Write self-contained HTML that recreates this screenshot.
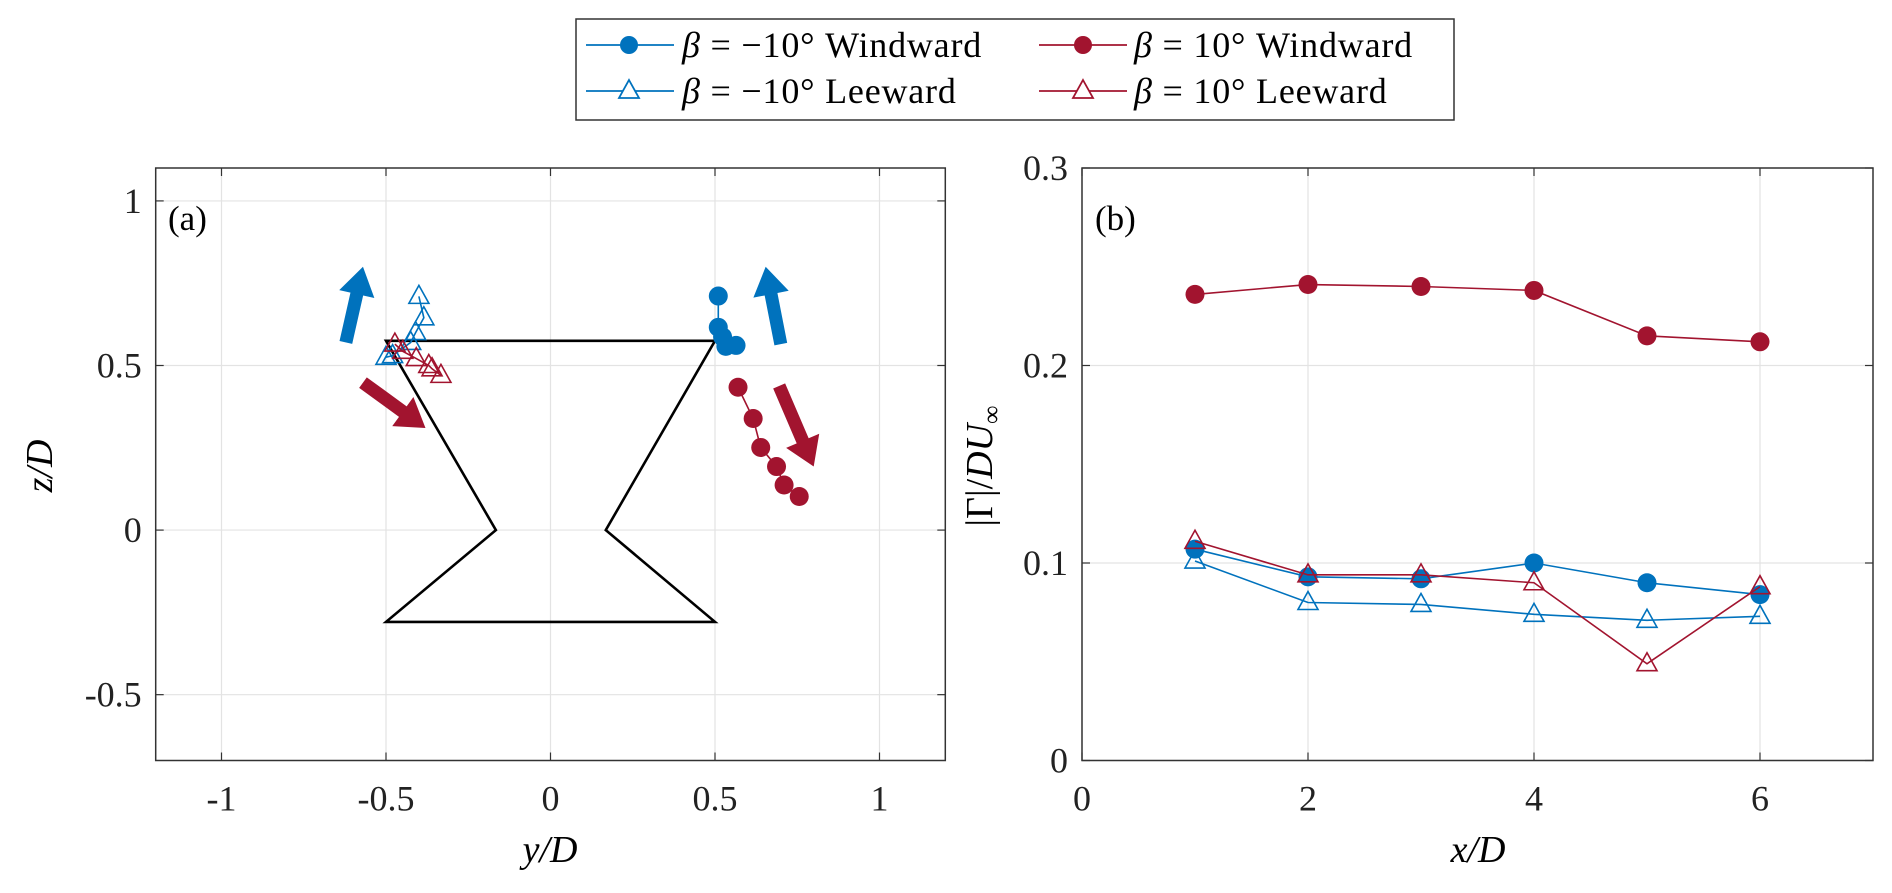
<!DOCTYPE html>
<html><head><meta charset="utf-8">
<style>
html,body{margin:0;padding:0;background:#fff;}
svg{display:block;font-family:"Liberation Serif",serif;}
</style></head>
<body>
<svg id="fig" width="1892" height="893" viewBox="0 0 1892 893" xmlns="http://www.w3.org/2000/svg">
  <g id="pa"></g>
  <g id="pb"></g>
  <g>
    <rect x="576" y="19" width="878" height="101" fill="#fff" stroke="#333" stroke-width="1.5"/>
    <g>
      <line x1="586" y1="45" x2="674" y2="45" stroke="#0072BD" stroke-width="1.8"/>
      <circle cx="629" cy="45" r="9" fill="#0072BD"/>
      <text x="682" y="57" font-size="36" letter-spacing="0.8"><tspan font-style="italic">β</tspan> = −10° Windward</text>
    </g>
    <g>
      <line x1="1039" y1="45" x2="1127" y2="45" stroke="#A2142F" stroke-width="1.8"/>
      <circle cx="1083" cy="45" r="9" fill="#A2142F"/>
      <text x="1134" y="57" font-size="36" letter-spacing="0.8"><tspan font-style="italic">β</tspan> = 10° Windward</text>
    </g>
    <g>
      <line x1="586" y1="91" x2="674" y2="91" stroke="#0072BD" stroke-width="1.8"/>
      <polygon points="629,80 639,98 619,98" fill="#fff" stroke="#0072BD" stroke-width="1.8"/>
      <text x="682" y="103" font-size="36" letter-spacing="0.8"><tspan font-style="italic">β</tspan> = −10° Leeward</text>
    </g>
    <g>
      <line x1="1039" y1="91" x2="1127" y2="91" stroke="#A2142F" stroke-width="1.8"/>
      <polygon points="1083,80 1093,98 1073,98" fill="#fff" stroke="#A2142F" stroke-width="1.8"/>
      <text x="1134" y="103" font-size="36" letter-spacing="0.8"><tspan font-style="italic">β</tspan> = 10° Leeward</text>
    </g>
  </g>
</svg>
<script>
// ---- Panel (a) data ----
const aBlueWindY = [0.51, 0.51, 0.523, 0.533, 0.564];
const aBlueWindZ = [0.711, 0.616, 0.587, 0.558, 0.561];
const aRedWindY = [0.57, 0.616, 0.639, 0.687, 0.71, 0.756];
const aRedWindZ = [0.434, 0.339, 0.251, 0.193, 0.137, 0.102];
const aBlueLeeY = [-0.40, -0.385, -0.41, -0.425, -0.48, -0.50];
const aBlueLeeZ = [0.71, 0.645, 0.60, 0.57, 0.53, 0.525];
const aRedLeeY = [-0.473, -0.449, -0.408, -0.37, -0.36, -0.333];
const aRedLeeZ = [0.565, 0.543, 0.521, 0.50, 0.49, 0.47];
const bodyY = [-0.5, 0.5, 0.168, 0.5, -0.5, -0.166];
const bodyZ = [0.575, 0.575, 0, -0.279, -0.279, 0];
const aXTicks = [-1, -0.5, 0, 0.5, 1];
const aXTickLabels = ["-1", "-0.5", "0", "0.5", "1"];
const aYTicks = [-0.5, 0, 0.5, 1];
const aYTickLabels = ["-0.5", "0", "0.5", "1"];
// ---- Panel (b) data ----
const bX = [1, 2, 3, 4, 5, 6];
const bRedWind = [0.236, 0.241, 0.240, 0.238, 0.215, 0.212];
const bBlueWind = [0.107, 0.093, 0.092, 0.100, 0.090, 0.084];
const bBlueLee = [0.101, 0.080, 0.079, 0.074, 0.071, 0.073];
const bRedLee = [0.111, 0.094, 0.094, 0.090, 0.049, 0.088];
const bXTicks = [0, 2, 4, 6];
const bXTickLabels = ["0", "2", "4", "6"];
const bYTicks = [0, 0.1, 0.2, 0.3];
const bYTickLabels = ["0", "0.1", "0.2", "0.3"];

const NS = "http://www.w3.org/2000/svg";
const BLUE = "#0072BD", RED = "#A2142F";
function mk(parent, tag, attrs, text) {
  const e = document.createElementNS(NS, tag);
  for (const k in attrs) e.setAttribute(k, attrs[k]);
  if (text !== undefined) e.textContent = text;
  parent.appendChild(e);
  return e;
}
function axes(g, L, T, R, B, sx, sy, xt, xl, yt, yl) {
  for (let i = 0; i < xt.length; i++) {
    const x = sx(xt[i]);
    mk(g, "line", {x1: x, y1: T, x2: x, y2: B, stroke: "#e3e3e3", "stroke-width": 1.2});
  }
  for (let i = 0; i < yt.length; i++) {
    const y = sy(yt[i]);
    mk(g, "line", {x1: L, y1: y, x2: R, y2: y, stroke: "#e3e3e3", "stroke-width": 1.2});
  }
  for (let i = 0; i < xt.length; i++) {
    const x = sx(xt[i]);
    mk(g, "line", {x1: x, y1: B, x2: x, y2: B - 8, stroke: "#333", "stroke-width": 1.2});
    mk(g, "line", {x1: x, y1: T, x2: x, y2: T + 8, stroke: "#333", "stroke-width": 1.2});
    const t = mk(g, "text", {x: x, y: B + 50, "font-size": 36, "text-anchor": "middle", fill: "#222"}, xl[i]);
    
    
  }
  for (let i = 0; i < yt.length; i++) {
    const y = sy(yt[i]);
    mk(g, "line", {x1: L, y1: y, x2: L + 8, y2: y, stroke: "#333", "stroke-width": 1.2});
    mk(g, "line", {x1: R, y1: y, x2: R - 8, y2: y, stroke: "#333", "stroke-width": 1.2});
    const t = mk(g, "text", {x: L - 14, y: y + 12, "font-size": 36, "text-anchor": "end", fill: "#222"}, yl[i]);
    
    
  }
  const box = mk(g, "rect", {x: L, y: T, width: R - L, height: B - T, fill: "none", stroke: "#333", "stroke-width": 1.5});
  
  
}
function series(g, xs, ys, sx, sy, color, marker, name) {
  const s = mk(g, "g", {});
  
  
  const pts = xs.map((x, i) => sx(x) + "," + sy(ys[i])).join(" ");
  mk(s, "polyline", {points: pts, fill: "none", stroke: color, "stroke-width": 1.6});
  for (let i = 0; i < xs.length; i++) {
    const cx = sx(xs[i]), cy = sy(ys[i]);
    let m;
    if (marker === "circle") m = mk(s, "circle", {cx: cx, cy: cy, r: 9.5, fill: color});
    else m = mk(s, "polygon", {points: `${cx},${cy-11} ${cx+10},${cy+7} ${cx-10},${cy+7}`, fill: "none", stroke: color, "stroke-width": 1.6});
    
    
  }
}
function arrow(g, sx, sy, x0, y0, x1, y1, color, name) {
  const ax = sx(x0), ay = sy(y0), bx = sx(x1), by = sy(y1);
  const dx = bx - ax, dy = by - ay, len = Math.hypot(dx, dy);
  const ux = dx / len, uy = dy / len, px = -uy, py = ux;
  const hl = 28, hw = 18, sw = 6.5;
  const hx = bx - ux * hl, hy = by - uy * hl;
  const p = [[ax + px*sw, ay + py*sw], [hx + px*sw, hy + py*sw], [hx + px*hw, hy + py*hw], [bx, by],
             [hx - px*hw, hy - py*hw], [hx - px*sw, hy - py*sw], [ax - px*sw, ay - py*sw]];
  const a = mk(g, "polygon", {points: p.map(q => q.join(",")).join(" "), fill: color});
  
  
}

// Panel a
(function(){
  const g = document.getElementById("pa");
  const L = 155.7, R = 945.3, T = 168, B = 760.5;
  const sx = v => L + (v + 1.2) / 2.4 * (R - L);
  const sy = v => B - (v + 0.7) / 1.8 * (B - T);
  axes(g, L, T, R, B, sx, sy, aXTicks, aXTickLabels, aYTicks, aYTickLabels);
  const body = mk(g, "polygon", {points: bodyY.map((y, i) => sx(y) + "," + sy(bodyZ[i])).join(" "), fill: "none", stroke: "#000", "stroke-width": 2.6});
  
  
  series(g, aBlueLeeY, aBlueLeeZ, sx, sy, BLUE, "tri", "neg10-leeward");
  series(g, aRedLeeY, aRedLeeZ, sx, sy, RED, "tri", "pos10-leeward");
  series(g, aBlueWindY, aBlueWindZ, sx, sy, BLUE, "circle", "neg10-windward");
  series(g, aRedWindY, aRedWindZ, sx, sy, RED, "circle", "pos10-windward");
  arrow(g, sx, sy, -0.622, 0.57, -0.57, 0.80, BLUE, "arrow-left-blue");
  arrow(g, sx, sy, -0.57, 0.448, -0.38, 0.31, RED, "arrow-left-red");
  arrow(g, sx, sy, 0.70, 0.565, 0.654, 0.80, BLUE, "arrow-right-blue");
  arrow(g, sx, sy, 0.695, 0.438, 0.80, 0.193, RED, "arrow-right-red");
  const pl = mk(g, "text", {x: 168, y: 230, "font-size": 35}, "(a)");
  
  
  const xl = mk(g, "text", {x: 550, y: 862, "font-size": 38, "text-anchor": "middle", "font-style": "italic"}, "y/D");
  
  
  const yl = mk(g, "text", {x: 0, y: 0, "font-size": 38, "text-anchor": "middle", "font-style": "italic", transform: "translate(52,466) rotate(-90)"}, "z/D");
  
  
})();

// Panel b
(function(){
  const g = document.getElementById("pb");
  const L = 1082, R = 1873, T = 168, B = 760.5;
  const sx = v => L + v / 7 * (R - L);
  const sy = v => B - v / 0.3 * (B - T);
  axes(g, L, T, R, B, sx, sy, bXTicks, bXTickLabels, bYTicks, bYTickLabels);
  series(g, bX, bRedWind, sx, sy, RED, "circle", "pos10-windward-b");
  series(g, bX, bBlueLee, sx, sy, BLUE, "tri", "neg10-leeward-b");
  series(g, bX, bBlueWind, sx, sy, BLUE, "circle", "neg10-windward-b");
  series(g, bX, bRedLee, sx, sy, RED, "tri", "pos10-leeward-b");
  const pl = mk(g, "text", {x: 1095, y: 230, "font-size": 35}, "(b)");
  
  
  const xl = mk(g, "text", {x: 1478, y: 862, "font-size": 38, "text-anchor": "middle", "font-style": "italic"}, "x/D");
  
  
  const yl = mk(g, "text", {x: 0, y: 0, "font-size": 38, "text-anchor": "middle", transform: "translate(992,466) rotate(-90)"});
  
  
  yl.innerHTML = '|Γ|/<tspan font-style="italic">DU</tspan><tspan font-size="26" dy="8">∞</tspan>';
})();
</script>
</body></html>
